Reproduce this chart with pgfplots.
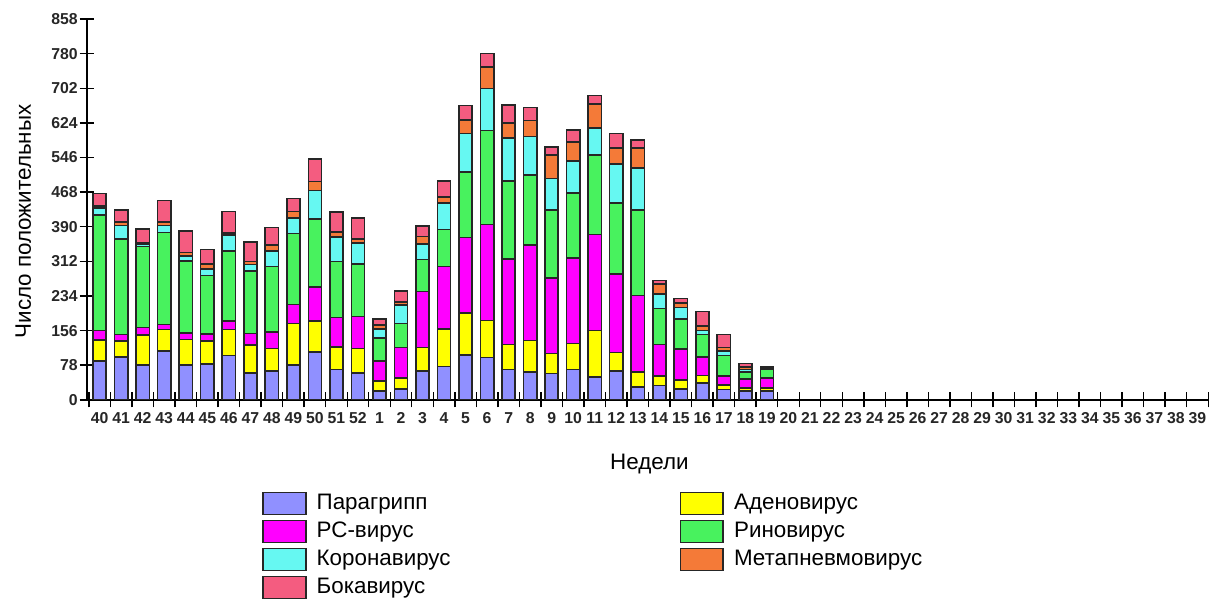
\documentclass[border=0pt]{standalone}
\usepackage{fontspec}
\setmainfont{Liberation Sans}
\usepackage{pgfplots}
\pgfplotsset{compat=1.18}
\usepackage{pgfplotstable}

\definecolor{cPara}{HTML}{9090FF}
\definecolor{cAdeno}{HTML}{FFFF00}
\definecolor{cRS}{HTML}{FF00FF}
\definecolor{cRino}{HTML}{48F25E}
\definecolor{cCorona}{HTML}{66F8F2}
\definecolor{cMeta}{HTML}{F47A38}
\definecolor{cBoka}{HTML}{F45C80}

% x = category index (40 -> 0 ... 52 -> 12, 1 -> 13 ... 19 -> 31)
\pgfplotstableread{
x  para adeno rs  rino corona meta boka
0  87   48    21  260  16     5    28
1  96   36    15  215  31     8    26
2  78   68    17  182  5      3    32
3  110  48    12  207  16     8    48
4  78   58    14  163  11     8    49
5  81   51    16  132  15     11   33
6  100  58    20  157  36     5    48
7  61   62    26  141  15     7    44
8  65   51    37  147  35     14   39
9  78   94    43  160  35     14   30
10 108  70    76  153  65     20   50
11 68   51    66  127  55     11   45
12 61   55    72  118  47     9    48
13 20   22    45  52   20     9    14
14 25   24    69  54   42     7    24
15 65   53    126 72   35     17   24
16 75   85    140 84   59     14   36
17 101  95    170 147  87     30   33
18 95   84    216 212  94     49   30
19 68   57    192 176  97     33   41
20 62   72    215 157  87     36   30
21 59   45    170 154  71     53   17
22 68   59    193 146  72     43   27
23 52   104   216 179  62     53   20
24 65   42    176 160  88     36   33
25 29   33    173 193  94     46   17
26 32   21    72  81   32     23   8
27 25   20    69  68   26     10   10
28 38   17    42  50   9      10   33
29 23   11    19  47   10     8    29
30 20   7     20  16   5      6    8
31 20   7     22  19   1      2    4
}\virdata

\begin{document}
\begin{tikzpicture}
\begin{axis}[
    scale only axis,
    width=561pt, height=190.5pt,
    ybar stacked,
    bar width=6.6pt,
    xmin=-0.6, xmax=51.5,
    ymin=0, ymax=858,
    ytick={0,78,156,234,312,390,468,546,624,702,780,858},
    xtick={0,...,51},
    xticklabels={40,41,42,43,44,45,46,47,48,49,50,51,52,1,2,3,4,5,6,7,8,9,10,11,12,13,14,15,16,17,18,19,20,21,22,23,24,25,26,27,28,29,30,31,32,33,34,35,36,37,38,39},
    minor xtick={-0.5,0.5,...,51.5},
    major x tick style={draw=none},
    axis lines*=left,
    axis line style={line width=0.8pt},
    tick style={line width=0.7pt, black},
    tick align=center,
    major tick length=7pt,
    minor tick length=7.5pt,
    /pgf/number format/assume math mode=true,
    ticklabel style={font=\bfseries\fontsize{7.9}{8.5}\selectfont, text=black!85},
    xticklabel style={inner sep=1pt, yshift=-1.5pt},
    yticklabel style={inner xsep=0.8pt},
    xlabel={Недели},
    ylabel={Число положительных},
    label style={font=\fontsize{11.2}{13}\selectfont},
    xlabel style={yshift=-11pt, xshift=1pt},
    ylabel style={yshift=1.5pt, xshift=-6pt, inner ysep=7.7pt},
    every axis plot/.append style={draw=black!85, line width=0.8pt},
    area legend,
    legend image code/.code={\draw[#1] (0pt,-5.5pt) rectangle (21.5pt,5.5pt);},
    legend columns=2,
    legend cell align=left,
    legend style={draw=none, fill=none, at={(0.156,-0.2345)}, anchor=north west,
        inner sep=0pt, row sep=0pt,
        font=\fontsize{11.2}{13}\selectfont,
        nodes={inner xsep=5pt, inner ysep=1.5pt, text height=8.5pt, text depth=2.5pt},
        /tikz/every even column/.append style={column sep=109.5pt}},
    legend image post style={line width=0.8pt},
    after end axis/.code={\path (rel axis cs:0,1) ++(0,9.5pt);},
]
\addplot[fill=cPara] table[x=x, y=para] {\virdata};
\addlegendentry{Парагрипп}
\addplot[fill=cAdeno] table[x=x, y=adeno] {\virdata};
\addlegendentry{Аденовирус}
\addplot[fill=cRS] table[x=x, y=rs] {\virdata};
\addlegendentry{РС-вирус}
\addplot[fill=cRino] table[x=x, y=rino] {\virdata};
\addlegendentry{Риновирус}
\addplot[fill=cCorona] table[x=x, y=corona] {\virdata};
\addlegendentry{Коронавирус}
\addplot[fill=cMeta] table[x=x, y=meta] {\virdata};
\addlegendentry{Метапневмовирус}
\addplot[fill=cBoka] table[x=x, y=boka] {\virdata};
\addlegendentry{Бокавирус}
\end{axis}
\end{tikzpicture}
\end{document}
